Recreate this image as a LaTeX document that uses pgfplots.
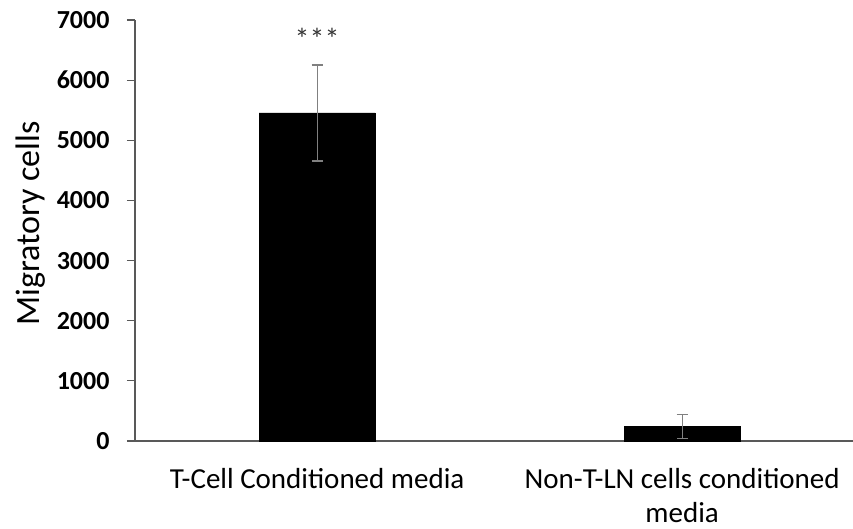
\documentclass[border=0pt]{standalone}
\usepackage{pgfplots}
\pgfplotsset{compat=1.18}
\usepackage{fontspec}
\setmainfont{Carlito}
\definecolor{axisgray}{HTML}{595959}
\definecolor{errgray}{HTML}{808080}
\begin{document}
\begin{tikzpicture}[x=1pt,y=1pt]
\begin{axis}[
  at={(0,0)}, anchor=south west,
  scale only axis,
  width=718pt, height=421pt,
  xmin=-0.499, xmax=1.468,
  ymin=0, ymax=7000,
  ytick={0,1000,...,7000},
  xtick={0,1},
  xticklabels={T-Cell Conditioned media, {Non-T-LN cells conditioned\\media}},
  xticklabel style={font=\fontsize{29}{34}\selectfont, align=center, text=black, yshift=-20pt},
  yticklabel style={font=\bfseries\fontsize{26}{30}\selectfont, text=black, xshift=-14pt},
  /pgf/number format/assume math mode=true,
  /pgf/number format/1000 sep={},
  axis x line=bottom, axis y line=left,
  axis line style={axisgray, line width=1.2pt, -},
  x axis line style={-},
  y axis line style={-},
  major tick length=8pt,
  tick style={axisgray, line width=1.2pt},
  xtick style={draw=none},
  ytick align=outside,
  ylabel={Migratory cells},
  ylabel style={font=\fontsize{34}{38}\selectfont, text=black, at={(axis description cs:-0.146,0.517)}, anchor=center},
  clip=false,
]
\addplot[ybar, bar width=116pt, fill=black, draw=black, bar shift=0pt,
  error bars/.cd, y dir=both, y explicit,
  error bar style={errgray, line width=1.2pt},
  error mark options={rotate=90, mark size=5.5pt, errgray, line width=1.2pt}]
  coordinates {(0,5455) +- (0,798) (1,240) +- (0,198)};
\node[font=\fontsize{30}{34}\selectfont, text=black!80] at (axis cs:0,6680) {***};
\end{axis}
\pgfresetboundingbox
\path[use as bounding box] (-135pt,-88pt) rectangle (718pt,441pt);
\end{tikzpicture}
\end{document}
